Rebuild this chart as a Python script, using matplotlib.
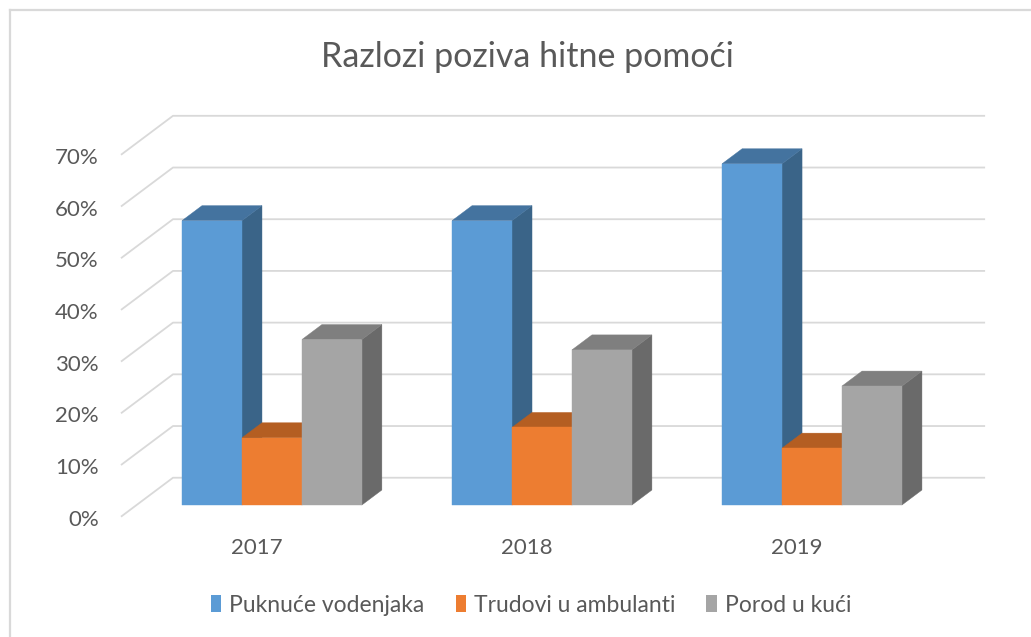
import matplotlib
matplotlib.use("Agg")
import matplotlib.pyplot as plt
from matplotlib.patches import Polygon, Patch
from matplotlib.lines import Line2D

# ---- data ----
years = ["2017", "2018", "2019"]
series_names = ["Puknuće vodenjaka", "Trudovi u ambulanti", "Porod u kući"]
puknuce = [55, 55, 66]
trudovi = [13, 15, 11]
porod = [32, 30, 23]
y_ticks = [0, 10, 20, 30, 40, 50, 60, 70]
title = "Razlozi poziva hitne pomoći"

# ---- style ----
front_cols = ["#5B9BD5", "#ED7D31", "#A5A5A5"]
top_cols = ["#44739F", "#B45E22", "#7F7F7F"]
side_cols = ["#3A6488", "#A0521D", "#6A6A6A"]
grid_col = "#D9D9D9"
text_col = "#595959"
FONT = ["Lato", "DejaVu Sans"]

# layout (oblique projection, data units)
bar_w = 0.222          # width of each bar (category units)
DX, DY = 0.1926, 7.54  # full depth vector of the floor
front_off = 0.30       # bars' front plane behind front edge (fraction of depth)
bar_depth = 0.385      # bar depth (fraction of depth)
wall_left = -0.559     # front-left edge of side wall
wall_right = 2.641     # right end of back wall

fig = plt.figure(figsize=(10.31, 6.37), dpi=100)
ax = fig.add_axes([0, 0, 1, 1])
ax.set_xlim(-1.007, 2.811)
ax.set_ylim(-25.53, 97.68)
ax.axis("off")

# gridlines: side wall diagonal + back wall horizontal
for v in y_ticks:
    x_f, y_f = wall_left, v - front_off * DY
    x_b, y_b = wall_left + DX, v + (1 - front_off) * DY
    ax.plot([x_f, x_b, wall_right], [y_f, y_b, y_b], color=grid_col,
            lw=1.3, solid_capstyle="butt", zorder=1)
    ax.text(wall_left - 0.082, y_f - 0.6, f"{v}%", ha="right", va="center",
            fontsize=16, color=text_col, family=FONT)

# bars
data = [puknuce, trudovi, porod]
bdx, bdy = bar_depth * DX, bar_depth * DY
z = 2
for i, yr in enumerate(years):
    for j in range(3):
        v = data[j][i]
        x0 = i - 1.5 * bar_w + j * bar_w
        x1 = x0 + bar_w
        front = Polygon([(x0, 0), (x1, 0), (x1, v), (x0, v)], closed=True,
                        facecolor=front_cols[j], edgecolor=front_cols[j], lw=0.3, zorder=z)
        top = Polygon([(x0, v), (x1, v), (x1 + bdx, v + bdy), (x0 + bdx, v + bdy)], closed=True,
                      facecolor=top_cols[j], edgecolor=top_cols[j], lw=0.3, zorder=z)
        side = Polygon([(x1, 0), (x1 + bdx, bdy), (x1 + bdx, v + bdy), (x1, v)], closed=True,
                       facecolor=side_cols[j], edgecolor=side_cols[j], lw=0.3, zorder=z)
        ax.add_patch(side)
        ax.add_patch(top)
        ax.add_patch(front)
        z += 1
    ax.text(i - front_off * DX, -8.3, yr, ha="center", va="center",
            fontsize=16, color=text_col, family=FONT)

# title
fig.text(527 / 1031, 1 - 57 / 637, title, ha="center", va="center",
         fontsize=24.5, color=text_col, family=FONT)

# legend
handles = [Patch(facecolor=c, edgecolor="none") for c in front_cols]
leg = fig.legend(handles, series_names, loc="center", bbox_to_anchor=(531 / 1031, 1 - 605 / 637),
                 ncol=3, frameon=False, handlelength=0.45, handleheight=0.7,
                 handletextpad=0.35, columnspacing=1.35, prop={"family": FONT, "size": 16.5})
for t in leg.get_texts():
    t.set_color(text_col)

# chart border
fig.add_artist(Line2D([10 / 1031, 1.0], [1 - 10 / 637, 1 - 10 / 637], transform=fig.transFigure,
                      color=grid_col, lw=1.6))
fig.add_artist(Line2D([10 / 1031, 10 / 1031], [0, 1 - 10 / 637], transform=fig.transFigure,
                      color=grid_col, lw=1.6))

fig.savefig("out.png", dpi=100, facecolor="white")
